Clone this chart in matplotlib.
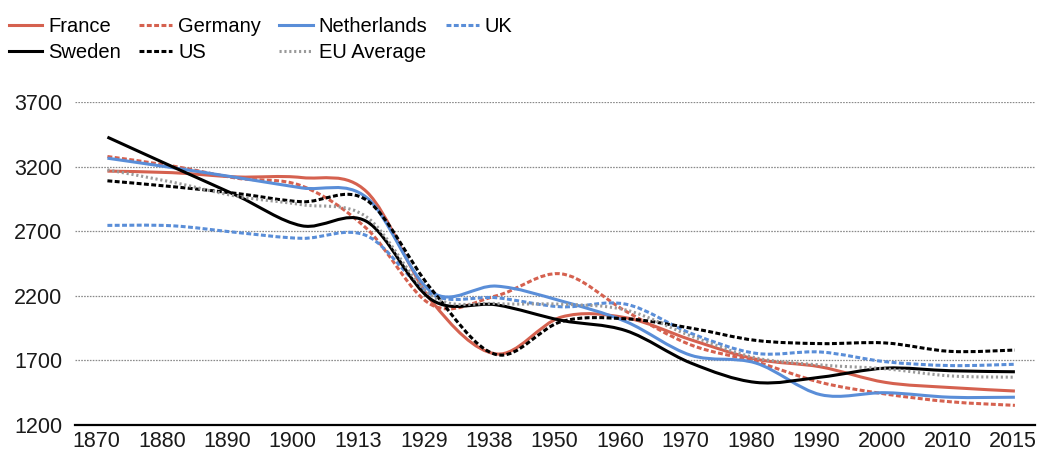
import numpy as np
import matplotlib
matplotlib.use('Agg')
import matplotlib.pyplot as plt
from matplotlib.path import Path
from matplotlib.patches import PathPatch
from matplotlib.lines import Line2D

plt.rcParams['font.family'] = ['Liberation Sans', 'DejaVu Sans']

years = ['1870', '1880', '1890', '1900', '1913', '1929', '1938', '1950',
         '1960', '1970', '1980', '1990', '2000', '2010', '2015']
france = [3165, 3153, 3120, 3115, 3005, 2160, 1750, 2035, 2030, 1860, 1710, 1650, 1530, 1490, 1463]
germany = [3278, 3205, 3110, 3050, 2720, 2130, 2200, 2370, 2080, 1820, 1690, 1530, 1440, 1380, 1352]
netherlands = [3265, 3192, 3115, 3035, 2960, 2230, 2275, 2160, 2000, 1740, 1680, 1435, 1450, 1415, 1415]
uk = [2745, 2742, 2690, 2645, 2665, 2210, 2185, 2115, 2135, 1910, 1755, 1765, 1690, 1660, 1670]
sweden = [3428, 3200, 2975, 2742, 2775, 2170, 2130, 2010, 1930, 1680, 1530, 1570, 1640, 1620, 1612]
us = [3090, 3045, 2992, 2928, 2940, 2250, 1745, 2000, 2022, 1950, 1855, 1830, 1835, 1770, 1780]
eu_average = [3175, 3080, 2970, 2905, 2810, 2200, 2140, 2135, 2090, 1890, 1720, 1665, 1635, 1580, 1570]
y_ticks = [1200, 1700, 2200, 2700, 3200, 3700]

RED = '#D5614F'
BLUE = '#5A8ED8'
GRAY = '#9A9A9A'

series = [
    ('France', france, RED, '-'),
    ('Germany', germany, RED, (0, (1.6, 0.8))),
    ('Netherlands', netherlands, BLUE, '-'),
    ('UK', uk, BLUE, (0, (1.6, 0.8))),
    ('Sweden', sweden, 'black', '-'),
    ('US', us, 'black', (0, (1.6, 0.8))),
    ('EU Average', eu_average, GRAY, (0, (0.7, 0.9))),
]


def smooth_path(xs, ys):
    pts = np.column_stack([xs, ys]).astype(float)
    n = len(pts)
    verts = [pts[0]]
    codes = [Path.MOVETO]
    for i in range(n - 1):
        p0 = pts[i - 1] if i > 0 else pts[i]
        p1 = pts[i]
        p2 = pts[i + 1]
        p3 = pts[i + 2] if i + 2 < n else pts[i + 1]
        c1 = p1 + (p2 - p0) / 6.0
        c2 = p2 - (p3 - p1) / 6.0
        verts += [c1, c2, p2]
        codes += [Path.CURVE4] * 3
    return Path(verts, codes)


fig = plt.figure(figsize=(10.37, 4.54), dpi=100)
ax = fig.add_axes([75 / 1037, 1 - 425 / 454, 960 / 1037, 323 / 454])

x = np.arange(len(years))
LW = 2.2
handles = []
for name, vals, col, ls in series:
    patch = PathPatch(smooth_path(x, vals), fill=False, edgecolor=col,
                      linewidth=LW, linestyle=ls, capstyle='butt', joinstyle='round')
    ax.add_patch(patch)
    handles.append(Line2D([0], [0], color=col, lw=LW, linestyle=ls,
                          dash_capstyle='butt', label=name))

ax.set_xlim(-0.5, 14.31)
ax.set_ylim(1200, 3700)
# tick labels sit slightly left of the data points, as in the reference
ax.set_xticks(x - np.linspace(0.17, 0.03, len(years)))
ax.set_xticklabels(years)
ax.set_yticks(y_ticks)
ax.tick_params(axis='both', length=0, labelsize=15.5, colors='#1a1a1a')
ax.tick_params(axis='y', pad=9)
ax.tick_params(axis='x', pad=4)

for v in y_ticks[1:]:
    ax.axhline(v, color='#8a8a8a', lw=0.9, linestyle=(0, (1.3, 1.0)), zorder=0)

for s in ['top', 'right', 'left']:
    ax.spines[s].set_visible(False)
ax.spines['bottom'].set_linewidth(1.6)
ax.spines['bottom'].set_color('black')

order = [0, 4, 1, 5, 2, 6, 3]
fig.legend([handles[i] for i in order], [handles[i].get_label() for i in order],
           loc='upper left', bbox_to_anchor=(9 / 1037, 1 - 17 / 454),
           ncol=4, frameon=False, fontsize=14.5, handlelength=1.65,
           handletextpad=0.3, columnspacing=0.9, labelspacing=0.35,
           borderpad=0, borderaxespad=0)

fig.savefig('out.png', dpi=100)
